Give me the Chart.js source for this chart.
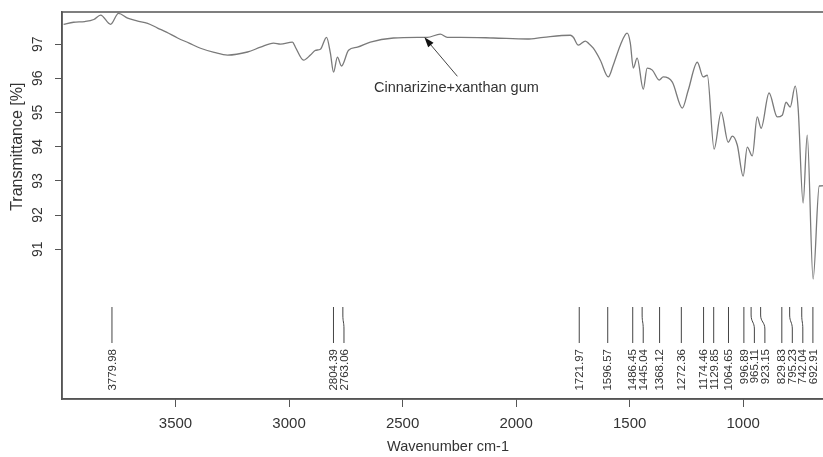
<!DOCTYPE html>
<html>
<head>
<meta charset="utf-8">
<script src="https://cdn.jsdelivr.net/npm/chart.js@4.4.1/dist/chart.umd.min.js"></script>
<style>
  html, body { margin: 0; padding: 0; background: #fff; overflow: hidden; }
  #wrap { width: 823px; height: 457px; overflow: hidden; }
</style>
</head>
<body>
<div id="wrap"><canvas id="ir" width="840" height="457"></canvas></div>
<script>
// FTIR spectrum: wavenumber (cm-1) vs transmittance (%)
const wavenumber = [
  3993, 3949, 3900, 3860, 3830, 3786, 3751, 3711, 3670, 3623,
  3579, 3540, 3491, 3440, 3390, 3330, 3271, 3183, 3126, 3068,
  3038, 2985, 2972, 2936, 2906, 2884, 2862, 2835, 2818, 2804,
  2787, 2769, 2738, 2699, 2642, 2540, 2435, 2391, 2334, 2303,
  2245, 2100, 1951, 1880, 1761, 1748, 1726, 1695, 1682, 1660,
  1629, 1594, 1572, 1541, 1511, 1497, 1484, 1467, 1440, 1423,
  1400, 1370, 1352, 1312, 1268, 1242, 1202, 1176, 1158, 1128,
  1097, 1066, 1048, 1026, 1000, 982, 960, 938, 921, 886,
  850, 828, 811, 793, 771, 758, 736, 718, 692, 665, 640
];
const transmittance = [
  97.58, 97.64, 97.66, 97.72, 97.85, 97.58, 97.90, 97.76, 97.68, 97.61,
  97.47, 97.35, 97.18, 97.03, 96.88, 96.76, 96.68, 96.77, 96.91, 97.03,
  97.00, 97.06, 96.91, 96.53, 96.68, 96.82, 96.85, 97.20, 96.74, 96.18,
  96.62, 96.36, 96.82, 96.91, 97.06, 97.18, 97.20, 97.20, 97.29, 97.20,
  97.20, 97.18, 97.15, 97.20, 97.26, 97.20, 96.97, 97.09, 97.03, 96.88,
  96.53, 96.04, 96.39, 96.97, 97.32, 97.03, 96.30, 96.59, 95.68, 96.30,
  96.24, 95.95, 96.04, 95.89, 95.13, 95.65, 96.47, 96.04, 96.09, 93.93,
  95.01, 94.13, 94.31, 94.05, 93.14, 93.99, 93.73, 94.87, 94.54, 95.57,
  94.87, 94.92, 95.30, 95.16, 95.77, 95.13, 92.35, 94.34, 90.13, 92.85, 92.86
];

// picked bands
const peakBands = [
  3779.98, 2804.39, 2763.06, 1721.97, 1596.57, 1486.45, 1445.04, 1368.12,
  1272.36, 1174.46, 1129.85, 1064.65, 996.89, 965.11, 923.15, 829.83,
  795.23, 742.04, 692.91
];
const peakLabels = peakBands.map(v => v.toFixed(2));

const xTicks = [3500, 3000, 2500, 2000, 1500, 1000];
const yTicks = [91, 92, 93, 94, 95, 96, 97];

const sampleName = 'Cinnarizine+xanthan gum';
const samplePoint = [2404, 97.2];

const FONT = '"Liberation Sans", Arial, sans-serif';
const INK = '#333';
const AXIS = '#555';

// frame, rotated y labels, band markers and the sample arrow
const decorations = {
  id: 'decorations',
  afterDraw(chart) {
    const {ctx, chartArea: a, scales: {x, y}} = chart;
    ctx.save();

    ctx.strokeStyle = AXIS;
    ctx.lineWidth = 1.5;
    ctx.strokeRect(a.left, a.top, a.right - a.left, a.bottom - a.top);

    ctx.fillStyle = INK;
    ctx.textBaseline = 'middle';
    ctx.textAlign = 'center';
    ctx.font = '14px ' + FONT;
    yTicks.forEach(v => {
      ctx.save();
      ctx.translate(38, y.getPixelForValue(v));
      ctx.rotate(-Math.PI / 2);
      ctx.fillText(String(v), 0, 0);
      ctx.restore();
    });

    ctx.save();
    ctx.font = '16px ' + FONT;
    ctx.translate(18, (y.getPixelForValue(91) + y.getPixelForValue(97)) / 2);
    ctx.rotate(-Math.PI / 2);
    ctx.fillText('Transmittance [%]', 0, 0);
    ctx.restore();

    // band markers: keep labels apart, bend the leader when a label is shifted
    const gap = 10.5;
    const pos = peakBands.map(v => x.getPixelForValue(v));
    const lab = [];
    pos.forEach((p, i) => { lab[i] = i && p < lab[i - 1] + gap ? lab[i - 1] + gap : p; });

    const top = a.bottom - 92, bendA = a.bottom - 84, bendB = a.bottom - 70, end = a.bottom - 56;
    ctx.strokeStyle = '#444';
    ctx.lineWidth = 1;
    pos.forEach((p, i) => {
      ctx.beginPath();
      ctx.moveTo(p, top);
      if (Math.abs(lab[i] - p) < 0.5) {
        ctx.lineTo(p, end);
      } else {
        const mid = (bendA + bendB) / 2;
        ctx.lineTo(p, bendA);
        ctx.bezierCurveTo(p, mid, lab[i], mid, lab[i], bendB);
        ctx.lineTo(lab[i], end);
      }
      ctx.stroke();
    });

    ctx.font = '11.5px ' + FONT;
    ctx.textAlign = 'right';
    peakLabels.forEach((t, i) => {
      ctx.save();
      ctx.translate(lab[i] + 0.5, a.bottom - 50);
      ctx.rotate(-Math.PI / 2);
      ctx.fillText(t, 0, 0);
      ctx.restore();
    });

    // arrow to the trace with the sample name
    const tx = x.getPixelForValue(samplePoint[0]);
    const ty = y.getPixelForValue(samplePoint[1]);
    const sx = tx + 33, sy = ty + 39;
    const ang = Math.atan2(ty - sy, tx - sx);
    ctx.strokeStyle = '#444';
    ctx.beginPath();
    ctx.moveTo(sx, sy);
    ctx.lineTo(tx - 6 * Math.cos(ang), ty - 6 * Math.sin(ang));
    ctx.stroke();
    ctx.fillStyle = '#111';
    ctx.beginPath();
    ctx.moveTo(tx, ty);
    ctx.lineTo(tx - 10 * Math.cos(ang) + 3.5 * Math.sin(ang), ty - 10 * Math.sin(ang) - 3.5 * Math.cos(ang));
    ctx.lineTo(tx - 10 * Math.cos(ang) - 3.5 * Math.sin(ang), ty - 10 * Math.sin(ang) + 3.5 * Math.cos(ang));
    ctx.closePath();
    ctx.fill();

    ctx.fillStyle = INK;
    ctx.font = '14.5px ' + FONT;
    ctx.textAlign = 'center';
    ctx.fillText(sampleName, tx + 32, ty + 51);

    ctx.restore();
  }
};

new Chart(document.getElementById('ir'), {
  type: 'line',
  data: {
    datasets: [{
      data: wavenumber.map((w, i) => ({x: w, y: transmittance[i]})),
      borderColor: '#7a7a7a',
      borderWidth: 1.3,
      pointRadius: 0,
      cubicInterpolationMode: 'monotone',
      fill: false
    }]
  },
  options: {
    responsive: false,
    devicePixelRatio: 1,
    animation: false,
    layout: {padding: {top: 12, right: 6, left: 0, bottom: 0}},
    plugins: {legend: {display: false}, tooltip: {enabled: false}},
    scales: {
      x: {
        type: 'linear',
        reverse: true,
        min: 600,
        max: 4000,
        afterBuildTicks: s => { s.ticks = xTicks.map(v => ({value: v})); },
        afterFit: s => { s.height = 58; },
        grid: {drawOnChartArea: false, drawTicks: true, tickLength: 8, color: AXIS, lineWidth: 1},
        border: {display: true, color: AXIS, width: 1.5},
        ticks: {
          color: INK, font: {family: FONT, size: 15}, padding: 8, maxRotation: 0, autoSkip: false,
          callback: v => String(v)
        },
        title: {display: true, text: 'Wavenumber cm-1', color: INK, font: {family: FONT, size: 14.5}, padding: {top: 0, bottom: 1}}
      },
      y: {
        min: 86.62,
        max: 97.94,
        afterBuildTicks: s => { s.ticks = yTicks.map(v => ({value: v})); },
        afterFit: s => { s.width = 62; },
        grid: {drawOnChartArea: false, drawTicks: true, tickLength: 7, color: AXIS, lineWidth: 1},
        border: {display: true, color: AXIS, width: 1.5},
        ticks: {callback: () => '', padding: 0}
      }
    }
  },
  plugins: [decorations]
});
</script>
</body>
</html>
